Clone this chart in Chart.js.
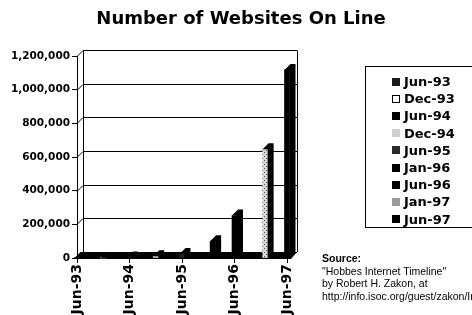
<!DOCTYPE html>
<html>
<head>
<meta charset="utf-8">
<script src="https://cdn.jsdelivr.net/npm/chart.js@4.4.1/dist/chart.umd.min.js"></script>
<style>
  html, body { margin: 0; padding: 0; background: #fff; }
  body { width: 472px; height: 315px; overflow: hidden; position: relative; }
  #chart { position: absolute; left: 0; top: 0; }
  #titulo {
    position: absolute; left: 0; top: 8px; width: 482px; text-align: center;
    font: bold 18px "DejaVu Sans", sans-serif; line-height: 20px; color: #000;
  }
  #leyenda {
    position: absolute; left: 365px; top: 66px; width: 130px; height: 162px;
    border: 1px solid #000; box-sizing: border-box;
  }
  .item { position: absolute; left: 26px; height: 17px; display: flex; align-items: center;
    white-space: nowrap; font: bold 13px "DejaVu Sans", sans-serif; color: #000; }
  .item span { display: block; width: 8px; height: 8px; margin-right: 4px; box-sizing: border-box; flex: none; }
  #fuente {
    position: absolute; left: 322px; top: 252px; white-space: nowrap;
    font: 10.5px "Liberation Sans", Arial, sans-serif; line-height: 12.5px; color: #000;
  }
</style>
</head>
<body>
<canvas id="chart" width="472" height="315"></canvas>
<div id="titulo">Number of Websites On Line</div>
<div id="leyenda"></div>
<div id="fuente"><b>Source:</b><br>"Hobbes Internet Timeline"<br>by Robert H. Zakon, at<br>http://info.isoc.org/guest/zakon/Internet/History/HIT.html</div>
<script>
// --- datos ---
const categorias = ["Jun-93", "Dec-93", "Jun-94", "Dec-94", "Jun-95", "Jan-96", "Jun-96", "Jan-97", "Jun-97"];
const mesesDesdeJun93 = [0, 6, 12, 18, 24, 31, 36, 43, 48];
const sitiosWeb = [130, 623, 2738, 10022, 23500, 100000, 252000, 646162, 1117255];
const etiquetasX = ["Jun-93", "Jun-94", "Jun-95", "Jun-96", "Jun-97"];
const maxY = 1200000;
const pasoY = 200000;

// tramado gris para Jan-97 (como en la impresion original)
function tramado(fondo, punto) {
  const c = document.createElement("canvas");
  c.width = 4; c.height = 4;
  const g = c.getContext("2d");
  g.fillStyle = fondo; g.fillRect(0, 0, 4, 4);
  g.fillStyle = punto;
  g.fillRect(0, 0, 1, 1); g.fillRect(2, 2, 1, 1);
  return document.getElementById("chart").getContext("2d").createPattern(c, "repeat");
}

const coloresBarras = ["#111", "#fff", "#000", "#ccc", "#222", "#000", "#000", tramado("#d9d9d9", "#555"), "#000"];
const coloresLeyenda = ["#1a1a1a", "#fff", "#000", "#d0d0d0", "#2a2a2a", "#000", "#000", "#9a9a9a", "#000"];

// leyenda en html
const leyenda = document.getElementById("leyenda");
categorias.forEach((cat, i) => {
  const d = document.createElement("div");
  d.className = "item";
  d.style.top = (6 + i * 17.2) + "px";
  const borde = coloresLeyenda[i] === "#fff" ? "border:1px solid #000;" : "";
  d.innerHTML = `<span style="background:${coloresLeyenda[i]};${borde}"></span>${cat}`;
  leyenda.appendChild(d);
});

// profundidad del efecto 3D
const DX = 6, DY = -6;

const efecto3D = {
  id: "efecto3D",
  beforeDatasetsDraw(chart) {
    const { ctx, chartArea: a, scales: { x, y } } = chart;
    const derFrente = x.getPixelForValue(48) + 4;
    const base = y.getPixelForValue(0);
    ctx.save();
    ctx.strokeStyle = "#000";
    ctx.lineWidth = 1;
    // pared del fondo: lineas de la cuadricula
    y.ticks.forEach(t => {
      const py = Math.round(y.getPixelForValue(t.value)) + 0.5;
      ctx.beginPath();
      ctx.moveTo(a.left, py);
      ctx.lineTo(a.left + DX, py + DY);
      ctx.lineTo(derFrente + DX, py + DY);
      ctx.stroke();
    });
    const arriba = Math.round(y.getPixelForValue(maxY)) + 0.5 + DY;
    ctx.beginPath();
    ctx.moveTo(a.left + DX + 0.5, arriba);
    ctx.lineTo(a.left + DX + 0.5, base + DY);
    ctx.moveTo(derFrente + DX + 0.5, arriba);
    ctx.lineTo(derFrente + DX + 0.5, base + DY);
    ctx.stroke();
    // piso negro
    ctx.fillStyle = "#000";
    ctx.beginPath();
    ctx.moveTo(a.left, base + 1);
    ctx.lineTo(derFrente, base + 1);
    ctx.lineTo(derFrente + DX, base + DY);
    ctx.lineTo(a.left + DX, base + DY);
    ctx.closePath();
    ctx.fill();
    ctx.restore();
  },
  afterDatasetsDraw(chart) {
    const { ctx } = chart;
    ctx.save();
    ctx.fillStyle = "#000";
    chart.getDatasetMeta(0).data.forEach(b => {
      const izq = b.x - b.width / 2, der = b.x + b.width / 2;
      ctx.beginPath();
      ctx.moveTo(izq, b.y);
      ctx.lineTo(izq + DX, b.y + DY);
      ctx.lineTo(der + DX, b.y + DY);
      ctx.lineTo(der + DX, b.base + DY);
      ctx.lineTo(der, b.base);
      ctx.lineTo(der, b.y);
      ctx.closePath();
      ctx.fill();
    });
    ctx.restore();
  }
};

const fuenteEje = { family: "'DejaVu Sans', sans-serif", weight: "bold" };

new Chart(document.getElementById("chart"), {
  type: "bar",
  data: {
    datasets: [{
      label: "Websites",
      data: mesesDesdeJun93.map((m, i) => ({ x: m, y: sitiosWeb[i] })),
      backgroundColor: coloresBarras,
      borderWidth: 0,
      barThickness: 5,
      clip: false
    }]
  },
  options: {
    responsive: false,
    animation: false,
    events: [],
    layout: { padding: { left: 0, right: 185, top: 56, bottom: 0 } },
    plugins: { legend: { display: false }, tooltip: { enabled: false } },
    scales: {
      x: {
        type: "linear",
        min: 0,
        max: 48,
        offset: false,
        afterFit: s => { s.height = 57; },
        grid: { drawOnChartArea: false, offset: false, tickLength: 5, color: "#000" },
        border: { color: "#000" },
        ticks: {
          stepSize: 12,
          autoSkip: false,
          minRotation: 90,
          maxRotation: 90,
          padding: 1,
          color: "#000",
          font: { ...fuenteEje, size: 14 },
          callback: (v, i) => etiquetasX[i]
        }
      },
      y: {
        min: 0,
        max: maxY,
        afterFit: s => { s.width = 77; },
        grid: { drawOnChartArea: false, tickLength: 5, color: "#000" },
        border: { color: "#000" },
        ticks: {
          stepSize: pasoY,
          padding: 2,
          color: "#000",
          font: { ...fuenteEje, size: 10.5 },
          callback: v => v.toLocaleString("en-US")
        }
      }
    }
  },
  plugins: [efecto3D]
});
</script>
</body>
</html>
